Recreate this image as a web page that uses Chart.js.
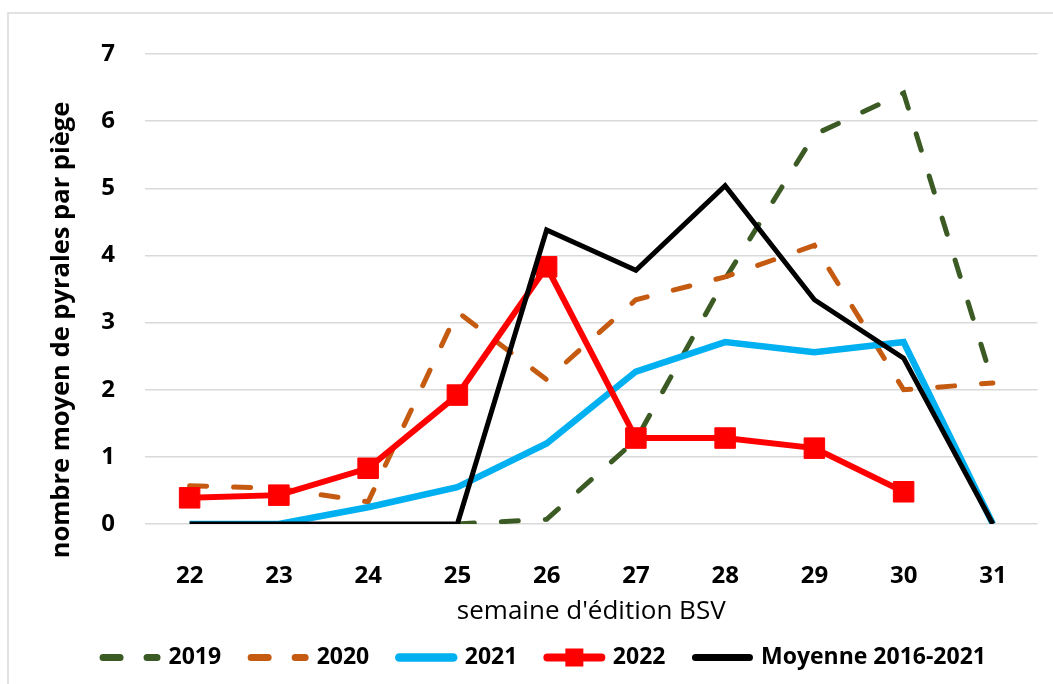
<!DOCTYPE html>
<html>
<head>
<meta charset="utf-8">
<script src="https://cdn.jsdelivr.net/npm/chart.js@4"></script>
<style>
  html, body { margin: 0; padding: 0; background: #fff; }
  canvas { display: block; }
</style>
</head>
<body>
<canvas id="chart" width="1053" height="684"></canvas>
<script>
// ======================================
// Data
// ======================================
const weeks = ['22', '23', '24', '25', '26', '27', '28', '29', '30', '31'];
const yTicks = [0, 1, 2, 3, 4, 5, 6, 7];

const s2019 = [null, null, null, 0, 0.07, 1.25, 3.65, 5.8, 6.42, 2.1];
const s2020 = [0.57, 0.53, 0.33, 3.16, 2.15, 3.34, 3.68, 4.15, 2.0, 2.1];
const s2021 = [0, 0, 0.25, 0.55, 1.2, 2.27, 2.71, 2.56, 2.71, 0];
const s2022 = [0.39, 0.43, 0.83, 1.92, 3.83, 1.28, 1.28, 1.13, 0.48, null];
const moyenne = [0, 0, 0, 0, 4.38, 3.78, 5.04, 3.34, 2.47, 0];

const FONT = "'Open Sans', 'Noto Sans', sans-serif";

// ======================================
// Plugins: fond, cadre, titre Y, carré légende
// ======================================
const frame = {
  id: 'frame',
  beforeDraw(chart) {
    const ctx = chart.ctx;
    ctx.save();
    ctx.fillStyle = '#fff';
    ctx.fillRect(0, 0, chart.width, chart.height);
    ctx.strokeStyle = '#d9d9d9';
    ctx.lineWidth = 1.5;
    ctx.beginPath();
    ctx.moveTo(8, chart.height);
    ctx.lineTo(8, 13);
    ctx.lineTo(chart.width, 13);
    ctx.stroke();
    ctx.restore();
  },
  afterDraw(chart) {
    const ctx = chart.ctx;
    // y axis title
    ctx.save();
    ctx.translate(62, 330);
    ctx.rotate(-Math.PI / 2);
    ctx.font = `bold 25.5px ${FONT}`;
    ctx.fillStyle = '#000';
    ctx.textAlign = 'center';
    ctx.textBaseline = 'middle';
    ctx.fillText('nombre moyen de pyrales par piège', 0, 0);
    ctx.restore();

    // square marker on the 2022 legend line
    const box = chart.legend.legendHitBoxes[3];
    if (box) {
      const cx = box.left + 54 / 2;
      const cy = box.top + box.height / 2;
      ctx.save();
      ctx.fillStyle = '#ff0000';
      ctx.fillRect(cx - 9, cy - 9, 18, 18);
      ctx.restore();
    }
  }
};

// ======================================
// Chart
// ======================================
const dashed = { borderDash: [17, 27], borderCapStyle: 'round', borderWidth: 5 };

new Chart(document.getElementById('chart'), {
  type: 'line',
  data: {
    labels: weeks,
    datasets: [
      { label: '2019', data: s2019, borderColor: '#3b5a24', backgroundColor: '#3b5a24', pointRadius: 0, order: 5, ...dashed },
      { label: '2020', data: s2020, borderColor: '#c55a11', backgroundColor: '#c55a11', pointRadius: 0, order: 4, ...dashed },
      { label: '2021', data: s2021, borderColor: '#00b0f0', backgroundColor: '#00b0f0', borderWidth: 6.5, pointRadius: 0, order: 3 },
      { label: '2022', data: s2022, borderColor: '#ff0000', backgroundColor: '#ff0000', borderWidth: 6,
        pointStyle: 'rect', pointRadius: 14.5, pointBorderWidth: 1, pointBorderColor: '#ff0000', pointBackgroundColor: '#ff0000', order: 2 },
      { label: 'Moyenne 2016-2021', data: moyenne, borderColor: '#000000', backgroundColor: '#000000', borderWidth: 5, pointRadius: 0, order: 1 }
    ]
  },
  options: {
    responsive: false,
    animation: false,
    devicePixelRatio: 1,
    layout: { padding: { top: 54, left: 40, right: 4, bottom: 5 } },
    elements: { line: { tension: 0, borderJoinStyle: 'miter' } },
    plugins: {
      tooltip: { enabled: false },
      legend: {
        position: 'bottom',
        labels: {
          usePointStyle: true,
          pointStyleWidth: 54,
          padding: 30,
          color: '#000',
          font: { family: FONT, size: 23, weight: 'bold' },
          generateLabels: chart => chart.data.datasets.map((ds, i) => ({
            text: ds.label,
            datasetIndex: i,
            pointStyle: 'line',
            strokeStyle: ds.borderColor,
            fillStyle: ds.borderColor,
            lineWidth: ds.borderWidth + 2,
            lineDash: ds.borderDash || [],
            lineCap: 'round',
            hidden: false
          }))
        }
      }
    },
    scales: {
      x: {
        offset: true,
        grid: { display: false },
        border: { display: false },
        ticks: { color: '#000', padding: 30, font: { family: FONT, size: 24, weight: 'bold' } },
        title: {
          display: true,
          text: "semaine d'édition BSV",
          color: '#000',
          font: { family: FONT, size: 26 },
          padding: { top: 0, bottom: -11 }
        },
        afterFit: s => { s.height = 92; }
      },
      y: {
        min: 0,
        max: 7,
        afterBuildTicks: s => { s.ticks = yTicks.map(v => ({ value: v })); },
        grid: { color: '#d9d9d9', lineWidth: 1.5, drawTicks: false },
        border: { display: false },
        ticks: { color: '#000', padding: 30, font: { family: FONT, size: 24, weight: 'bold' } },
        afterFit: s => { s.width = 105; }
      }
    }
  },
  plugins: [frame]
});
</script>
</body>
</html>
